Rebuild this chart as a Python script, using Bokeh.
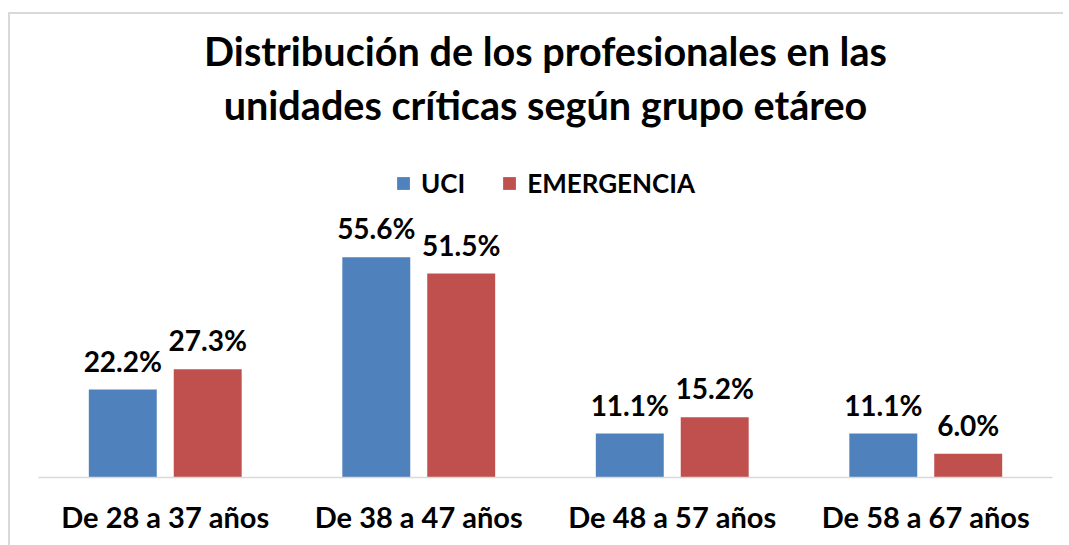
from bokeh.plotting import figure
from bokeh.models import ColumnDataSource, FactorRange, Range1d, Legend, LegendItem, Title
from bokeh.transform import dodge
from bokeh.core.properties import value
from bokeh.embed import file_html
from bokeh.resources import INLINE

categorias = ["De 28 a 37 años", "De 38 a 47 años", "De 48 a 57 años", "De 58 a 67 años"]
uci = [22.2, 55.6, 11.1, 11.1]
emergencia = [27.3, 51.5, 15.2, 6.0]
series = ["UCI", "EMERGENCIA"]
colores = ["#4F81BD", "#C0504D"]
titulo = ["Distribución de los profesionales en las", "unidades críticas según grupo etáreo"]

FONT = "Lato"

src = ColumnDataSource(dict(
    cat=categorias, uci=uci, eme=emergencia,
    uci_lbl=[f"{v:.1f}%" for v in uci],
    eme_lbl=[f"{v:.1f}%" for v in emergencia],
))

p = figure(x_range=FactorRange(*categorias), y_range=Range1d(0, 87.1),
           width=1055, height=533, output_backend="svg", toolbar_location=None,
           min_border_left=28, min_border_right=13,
           min_border_bottom=80, min_border_top=0)
p.title.text = titulo[0]
p.title.align = "center"
p.title.text_font = FONT
p.title.text_font_size = "39.6px"
p.title.text_color = "black"
p.title.standoff = 0

off = 0.1675
bw = 0.268
r1 = p.vbar(x=dodge("cat", -off, range=p.x_range), top="uci", width=bw, source=src,
            fill_color=colores[0], line_color=None)
r2 = p.vbar(x=dodge("cat", off, range=p.x_range), top="eme", width=bw, source=src,
            fill_color=colores[1], line_color=None)

for xo, col in [(-off, "uci_lbl"), (off, "eme_lbl")]:
    p.text(x=dodge("cat", xo, range=p.x_range), y=("uci" if col == "uci_lbl" else "eme"),
           text=col, source=src, text_align="center", text_baseline="alphabetic",
           y_offset=-29, text_font=value(FONT), text_font_style="bold",
           text_font_size="28px", text_color="black")

legend = Legend(items=[LegendItem(label=series[0], renderers=[r1]),
                       LegendItem(label=series[1], renderers=[r2])],
                orientation="horizontal", location="top_center",
                glyph_width=16, glyph_height=16, label_standoff=10, spacing=36,
                label_text_font=FONT, label_text_font_style="bold",
                label_text_font_size="26px", label_text_color="black",
                border_line_color=None, background_fill_alpha=0,
                margin=35, padding=5)
p.add_layout(legend)

t2 = Title(text=titulo[1], align="center", text_font=FONT, text_font_style="bold",
           text_font_size="39.6px", text_color="black", standoff=10)
p.add_layout(t2, "above")

p.xaxis.axis_line_color = "#d9d9d9"
p.xaxis.axis_line_width = 1.5
p.xaxis.major_tick_line_color = None
p.xaxis.minor_tick_line_color = None
p.xaxis.major_label_standoff = 15
p.xaxis.major_label_text_font = FONT
p.xaxis.major_label_text_font_style = "bold"
p.xaxis.major_label_text_font_size = "29px"
p.xaxis.major_label_text_color = "black"
p.yaxis.visible = False
p.grid.visible = False
p.outline_line_color = None
p.styles = {"margin-left": "8px", "margin-top": "12px", "padding-top": "10px",
            "border-left": "2px solid #d9d9d9", "border-top": "2px solid #d9d9d9"}

open("out.html", "w").write(file_html(p, INLINE))
